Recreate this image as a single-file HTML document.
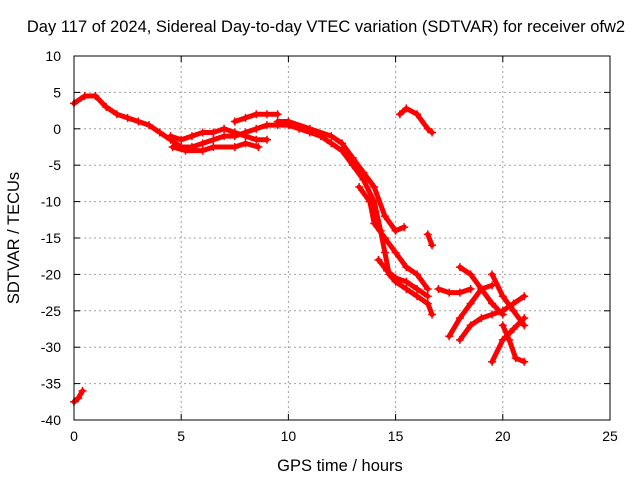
<!DOCTYPE html>
<html><head><meta charset="utf-8"><style>
body{margin:0;background:#fff}
svg{display:block}
text{font-family:"Liberation Sans",sans-serif;font-size:14px;fill:#000}
.big{font-size:16.5px}
</style></head><body>
<svg id="chart" width="640" height="480">
<rect x="0" y="0" width="640" height="480" fill="#fff"/>
<text class="big" x="326" y="32" text-anchor="middle">Day 117 of 2024, Sidereal Day-to-day VTEC variation (SDTVAR) for receiver ofw2</text>
<text class="big" x="340" y="471" text-anchor="middle">GPS time / hours</text>
<text class="big" x="0" y="0" transform="translate(19,238) rotate(-90)" text-anchor="middle">SDTVAR / TECUs</text>
<g id="grid"></g><g id="ticks"></g><g id="marks"></g>
<rect x="74" y="56" width="536" height="364" fill="none" stroke="#000" stroke-width="1"/>
</svg>
<script>
const xTicks=[0,5,10,15,20,25];
const yTicks=[10,5,0,-5,-10,-15,-20,-25,-30,-35,-40];
const trackA=[[0,3.5],[0.5,4.5],[1,4.5],[1.5,3],[2,2],[2.5,1.5],[3,1],[3.5,0.5],[4,-0.5],[4.5,-1.5],[5,-2.5],[5.5,-2.5],[6,-2],[6.5,-1.5],[7,-1],[7.5,-1],[8,-0.5],[8.5,0],[9,0.5],[9.5,0.5],[10,0.5],[10.5,0],[11,-0.5],[11.5,-1],[12,-2],[12.5,-3],[13,-5],[13.5,-7],[14,-10],[14.3,-14],[14.5,-17],[14.7,-20],[15,-21],[15.5,-22],[16,-23],[16.5,-24],[16.7,-25.5]];
const trackB=[[4.5,-1],[5,-1.5],[5.5,-1],[6,-0.5],[6.5,-0.5],[7,0],[7.5,-0.5],[8,-1],[8.5,-1.5],[9,-1.5]];
const trackB2=[[4.6,-2.5],[5.2,-3],[6,-3],[6.5,-2.5],[7.5,-2.5],[8,-2],[8.6,-2.5]];
const trackC=[[7.5,1],[8,1.5],[8.5,2],[9,2],[9.5,2]];
const trackD=[[9.5,1],[10,1],[11,0],[12,-1],[12.5,-2],[13,-4],[13.5,-6],[14,-8],[14.5,-12],[15,-14],[15.4,-13.5]];
const trackE=[[13.3,-8],[13.8,-10],[14,-13],[14.5,-15],[15,-17],[15.5,-19],[16,-20],[16.5,-22]];
const trackE2=[[14.2,-18],[14.6,-19.5],[15,-20.5],[15.5,-21],[16,-22],[16.5,-23]];
const trackF=[[15.2,2],[15.5,2.8],[16,2],[16.5,0],[16.7,-0.5]];
const trackG=[[16.5,-14.5],[16.7,-16]];
const trackH=[[17.5,-28.5],[18,-26],[18.5,-24],[19,-22],[19.5,-21.5]];
const trackI=[[17,-22],[17.5,-22.5],[18,-22.5],[18.5,-22]];
const trackJ=[[18,-19],[18.5,-20],[19,-22],[19.5,-24],[20,-25.5]];
const trackK=[[18,-29],[18.5,-27],[19,-26],[19.5,-25.5],[20,-25],[20.5,-24],[21,-23]];
const trackL=[[19.5,-20],[20,-23],[20.5,-25],[21,-27]];
const trackM=[[19.5,-32],[20,-29],[20.5,-27.5],[21,-26]];
const trackN=[[20,-27],[20.3,-29],[20.6,-31.5],[21,-32]];
const trackO=[[0,-37.5],[0.2,-37],[0.4,-36]];
const tracks=[trackA,trackB,trackB2,trackC,trackD,trackE,trackE2,trackF,trackG,trackH,trackI,trackJ,trackK,trackL,trackM,trackN,trackO];
const X=v=>74+v*(536/25), Y=v=>56+(10-v)*(364/50);
const NS="http://www.w3.org/2000/svg";
const grid=document.getElementById('grid'),ticks=document.getElementById('ticks'),marks=document.getElementById('marks');
function mk(t,a,p){const e=document.createElementNS(NS,t);for(const k in a)e.setAttribute(k,a[k]);p.appendChild(e);return e;}
xTicks.forEach(v=>{
 if(v>0&&v<25){const g=mk('line',{x1:X(v),x2:X(v),y1:56,y2:420,stroke:'#a0a0a0','stroke-dasharray':'2,3'},grid);
 
 }
 const t=mk('text',{x:X(v),y:441,'text-anchor':'middle'},ticks);t.textContent=v;
 
 
 mk('line',{x1:X(v),x2:X(v),y1:420,y2:414,stroke:'#000'},ticks);
 mk('line',{x1:X(v),x2:X(v),y1:56,y2:62,stroke:'#000'},ticks);
});
yTicks.forEach(v=>{
 if(v<10&&v>-40){const g=mk('line',{x1:74,x2:610,y1:Y(v),y2:Y(v),stroke:'#a0a0a0','stroke-dasharray':'2,3'},grid);
 
 }
 const t=mk('text',{x:61,y:Y(v)+5,'text-anchor':'end'},ticks);t.textContent=v;
 
 
 mk('line',{x1:74,x2:80,y1:Y(v),y2:Y(v),stroke:'#000'},ticks);
 mk('line',{x1:610,x2:604,y1:Y(v),y2:Y(v),stroke:'#000'},ticks);
});
tracks.forEach((tr,i)=>{
 const pl=mk('polyline',{points:tr.map(p=>X(p[0])+','+Y(p[1])).join(' '),fill:'none',stroke:'#f00','stroke-width':5,'stroke-linejoin':'round','stroke-linecap':'round'},marks);
 
 
 tr.forEach(p=>{
  const x=X(p[0]),y=Y(p[1]);
  const m=mk('path',{d:`M${x-4},${y}H${x+4}M${x},${y-4}V${y+4}`,stroke:'#f00','stroke-width':1.5},marks);
  
  
 });
});
</script>
</body></html>
